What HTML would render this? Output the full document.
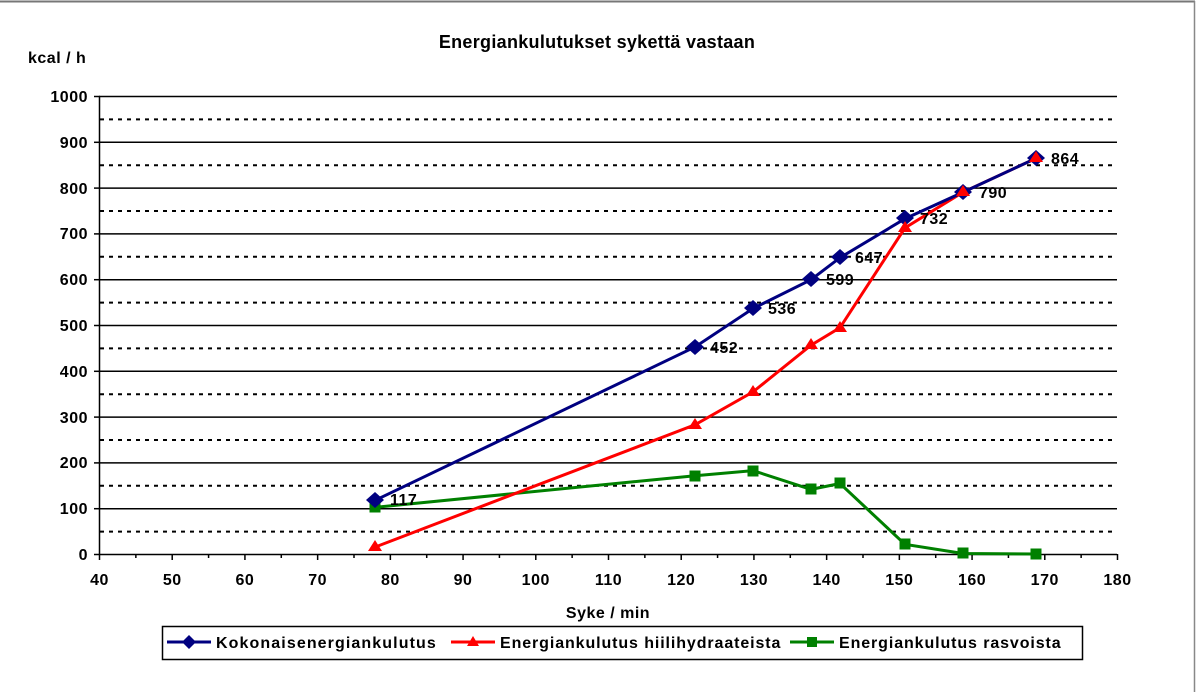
<!DOCTYPE html>
<html><head><meta charset="utf-8"><style>
html,body{margin:0;padding:0;background:#fff;}
svg{display:block;font-family:"Liberation Sans",Arial,sans-serif;font-weight:bold;}
</style></head><body>
<svg width="1200" height="692" viewBox="0 0 1200 692">
<rect x="0" y="0" width="1200" height="692" fill="#fff"/>
<line x1="0" y1="1.5" x2="1195" y2="1.5" stroke="#777" stroke-width="2"/>
<line x1="1194.5" y1="1" x2="1194.5" y2="692" stroke="#888" stroke-width="1.5"/>
<text x="597" y="48" font-size="18" text-anchor="middle" letter-spacing="0.3">Energiankulutukset sykettä vastaan</text>
<text x="28" y="63" font-size="16" letter-spacing="0.5">kcal / h</text>
<g stroke="#000" stroke-width="1.5">
<line x1="99" y1="96.5" x2="1117" y2="96.5"/><line x1="99" y1="142.3" x2="1117" y2="142.3"/>
<line x1="99" y1="188.1" x2="1117" y2="188.1"/><line x1="99" y1="233.9" x2="1117" y2="233.9"/>
<line x1="99" y1="279.7" x2="1117" y2="279.7"/><line x1="99" y1="325.5" x2="1117" y2="325.5"/>
<line x1="99" y1="371.3" x2="1117" y2="371.3"/><line x1="99" y1="417.1" x2="1117" y2="417.1"/>
<line x1="99" y1="462.9" x2="1117" y2="462.9"/><line x1="99" y1="508.7" x2="1117" y2="508.7"/>
</g>
<g stroke="#000" stroke-width="2" stroke-dasharray="4,5">
<line x1="100" y1="119.4" x2="1112" y2="119.4"/><line x1="100" y1="165.2" x2="1112" y2="165.2"/>
<line x1="100" y1="211" x2="1112" y2="211"/><line x1="100" y1="256.8" x2="1112" y2="256.8"/>
<line x1="100" y1="302.6" x2="1112" y2="302.6"/><line x1="100" y1="348.4" x2="1112" y2="348.4"/>
<line x1="100" y1="394.2" x2="1112" y2="394.2"/><line x1="100" y1="440" x2="1112" y2="440"/>
<line x1="100" y1="485.8" x2="1112" y2="485.8"/><line x1="100" y1="531.6" x2="1112" y2="531.6"/>
</g>
<g stroke="#000" stroke-width="1.5">
<line x1="99.5" y1="96" x2="99.5" y2="554"/>
<line x1="99" y1="554.5" x2="1117" y2="554.5"/>
</g>
<g stroke="#000" stroke-width="1.5" id="ticks"></g>
<g font-size="16" text-anchor="end" letter-spacing="0.5">
<text x="88" y="102">1000</text><text x="88" y="148">900</text><text x="88" y="194">800</text>
<text x="88" y="239">700</text><text x="88" y="285">600</text><text x="88" y="331">500</text>
<text x="88" y="377">400</text><text x="88" y="423">300</text><text x="88" y="468">200</text>
<text x="88" y="514">100</text><text x="88" y="560">0</text>
</g>
<g font-size="16" text-anchor="middle" letter-spacing="0.5" id="xl"></g>
<text x="608" y="618" font-size="16" text-anchor="middle" letter-spacing="0.5">Syke / min</text>
<polyline fill="none" stroke="#008000" stroke-width="3" points="375,507.3 695,475.7 753,470.6 811,489.4 840,483.5 905,544.4 963,553.5 1036,554"/>
<polyline fill="none" stroke="#ff0000" stroke-width="3" points="375,547.1 695,424.8 753,391.9 811,345.2 840,327.7 905,227.9 963,192.2 1036,158.3"/>
<polyline fill="none" stroke="#000080" stroke-width="3" points="375,500.4 695,347 753,308.5 811,279.7 840,257.7 905,218.7 963,192.2 1036,158.3"/>
<g fill="#008000">
<rect x="369.5" y="501.5" width="11" height="11"/><rect x="689.5" y="470.5" width="11" height="11"/><rect x="747.5" y="465.5" width="11" height="11"/><rect x="805.5" y="483.5" width="11" height="11"/><rect x="834.5" y="477.5" width="11" height="11"/><rect x="899.5" y="538.5" width="11" height="11"/><rect x="957.5" y="547.5" width="11" height="11"/><rect x="1030.5" y="548.5" width="11" height="11"/>
</g>
<g fill="#000080">
<path d="M375,492l9,8-9,8-9-8z"/><path d="M695,339l9,8-9,8-9-8z"/><path d="M753,300l9,8-9,8-9-8z"/><path d="M811,271l9,8-9,8-9-8z"/><path d="M840,249l9,8-9,8-9-8z"/><path d="M905,210l9,8-9,8-9-8z"/><path d="M963,184l9,8-9,8-9-8z"/><path d="M1036,150l9,8-9,8-9-8z"/>
</g>
<g fill="#ff0000">
<path d="M375,540l7,11h-14z"/><path d="M695,418l7,11h-14z"/><path d="M753,385l7,11h-14z"/><path d="M811,338l7,11h-14z"/><path d="M840,321l7,11h-14z"/><path d="M905,221l7,11h-14z"/><path d="M963,185l7,11h-14z"/><path d="M1036,151l7,11h-14z"/>
</g>
<g font-size="16" letter-spacing="0.5">
<text x="390" y="505">117</text><text x="710" y="353">452</text><text x="768" y="314">536</text><text x="826" y="285">599</text><text x="855" y="263">647</text><text x="920" y="224">732</text><text x="979" y="198">790</text><text x="1051" y="164">864</text>
</g>
<rect x="162.5" y="626.5" width="920" height="33" fill="#fff" stroke="#000" stroke-width="1.5"/>
<line x1="167" y1="642" x2="211" y2="642" stroke="#000080" stroke-width="3"/><path d="M189,635l7,7-7,7-7-7z" fill="#000080"/>
<text x="216" y="648" font-size="16" letter-spacing="1.1">Kokonaisenergiankulutus</text>
<line x1="451" y1="642" x2="495" y2="642" stroke="#ff0000" stroke-width="3"/><path d="M473,636l6,10h-12z" fill="#ff0000"/>
<text x="500" y="648" font-size="16" letter-spacing="0.9">Energiankulutus hiilihydraateista</text>
<line x1="790" y1="642" x2="834" y2="642" stroke="#008000" stroke-width="3"/><rect x="807" y="637" width="10" height="10" fill="#008000"/>
<text x="839" y="648" font-size="16" letter-spacing="0.9">Energiankulutus rasvoista</text>
</svg>
<script>
var t=document.getElementById('ticks'),xl=document.getElementById('xl'),ns='http://www.w3.org/2000/svg';
for(var i=0;i<=28;i++){var x=99.5+i*36.357;var l=document.createElementNS(ns,'line');l.setAttribute('x1',x);l.setAttribute('x2',x);l.setAttribute('y1',554);l.setAttribute('y2',i%2?558:560);t.appendChild(l);
if(i%2==0){var s=document.createElementNS(ns,'text');s.setAttribute('x',x);s.setAttribute('y',585);s.textContent=40+i*5;xl.appendChild(s);}}
for(var j=0;j<=10;j++){var y=96.5+j*45.8;var l=document.createElementNS(ns,'line');l.setAttribute('x1',94);l.setAttribute('x2',100);l.setAttribute('y1',y);l.setAttribute('y2',y);t.appendChild(l);}
</script>
</body></html>
